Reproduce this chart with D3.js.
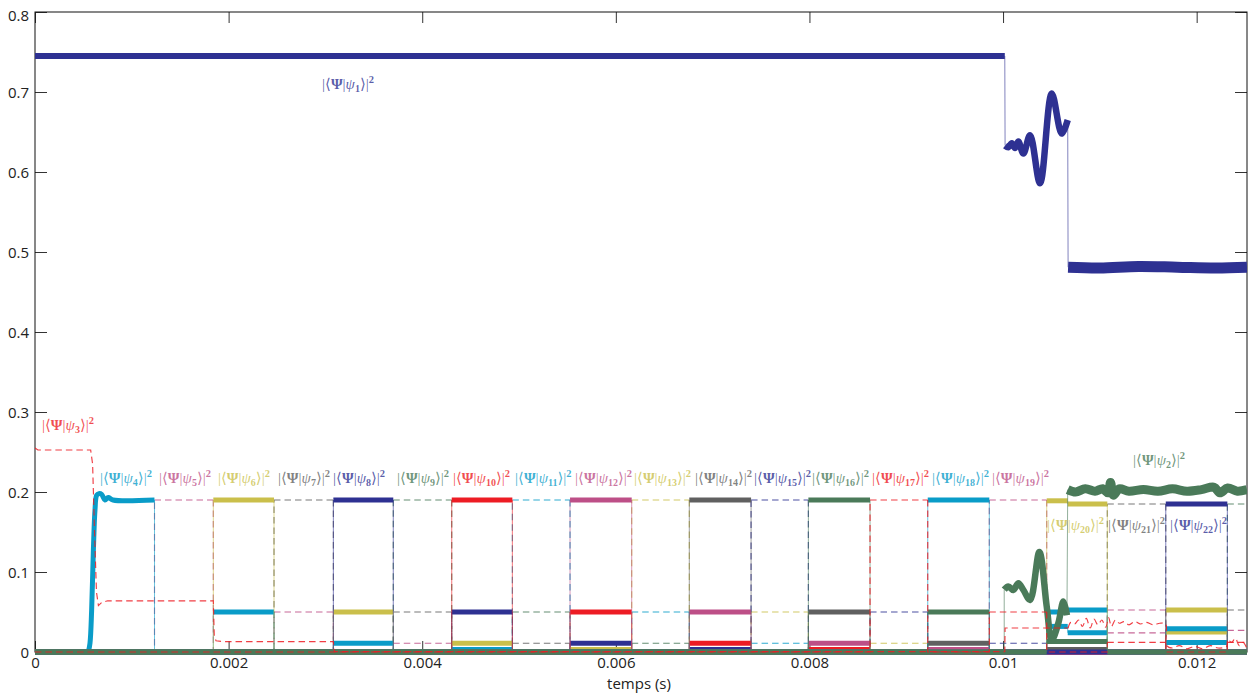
<!DOCTYPE html>
<html><head><meta charset="utf-8">
<script src="https://cdn.jsdelivr.net/npm/d3@7"></script>
<style>body{margin:0;background:#fff}svg{display:block}</style>
</head><body>
<svg id="chart" width="1257" height="693"></svg>
<script>
// ================= DATA (time in ms, shown in s) =================
const xTicks = [0, 2, 4, 6, 8, 10, 12];
const xTickLabels = ["0", "0.002", "0.004", "0.006", "0.008", "0.01", "0.012"];
const yTicks = [0, 0.1, 0.2, 0.3, 0.4, 0.5, 0.6, 0.7, 0.8];
const yTickLabels = ["0", "0.1", "0.2", "0.3", "0.4", "0.5", "0.6", "0.7", "0.8"];
const xTitle = "temps (s)";
const tEnd = 12.52;

// pulse windows (ms)
const windowStart = [0.6095, 1.842, 3.082, 4.305, 5.527, 6.759, 7.989, 9.222, 10.451, 11.681];
const windowEnd   = [1.2345, 2.469, 3.701, 4.931, 6.164, 7.397, 8.626, 9.858, 11.077, 12.317];

const seriesColors = ["#2e3192", "#4a7a59", "#ed1c24", "#0a9cc8", "#bd4f87", "#cabf4b", "#606060"];

const W = (j, v) => [windowStart[j], windowEnd[j], v];
const G = (j, v) => [windowEnd[j], j + 1 < windowStart.length ? windowStart[j + 1] : tEnd, v];

// |<Psi|psi1>|^2
const psi1Flat = [[0, 0.745], [10.018, 0.745]];
const psi1Osc = [[10.021, 0.633], [10.055, 0.631], [10.090, 0.636], [10.124, 0.630], [10.158, 0.638],
  [10.210, 0.623], [10.279, 0.646], [10.382, 0.586], [10.503, 0.698], [10.606, 0.648], [10.668, 0.665]];
const psi1Tail = [[10.672, 0.481], [11.0, 0.480], [11.4, 0.482], [11.8, 0.481], [12.2, 0.480], [12.52, 0.481]];
// |<Psi|psi2>|^2
const psi2Flat = [[0, 0], [10.012, 0]];
const psi2Osc = [[10.012, 0.078], [10.055, 0.082], [10.106, 0.0775], [10.158, 0.086], [10.210, 0.0775],
  [10.279, 0.065], [10.375, 0.125], [10.451, 0.057], [10.503, 0.015], [10.571, 0.036], [10.623, 0.063], [10.660, 0.046]];
const psi2Tail = [[10.668, 0.203], [10.75, 0.200], [10.85, 0.204], [10.95, 0.201], [11.03, 0.204], [11.085, 0.199],
  [11.11, 0.212], [11.14, 0.196], [11.20, 0.204], [11.30, 0.201], [11.45, 0.203], [11.60, 0.201], [11.75, 0.204],
  [11.90, 0.201], [12.05, 0.203], [12.18, 0.206], [12.24, 0.199], [12.32, 0.205], [12.42, 0.201], [12.52, 0.203]];
// |<Psi|psi3>|^2
const psi3Main = [[0, 0.255], [0.03, 0.2525], [0.575, 0.2525], [0.595, 0.235], [0.615, 0.15], [0.635, 0.075],
  [0.655, 0.058], [0.69, 0.062], [0.75, 0.064], [1.842, 0.064], [1.852, 0.02], [1.87, 0.014], [1.95, 0.013],
  [3.082, 0.013], [3.092, 0.0005], [10.018, 0.0005], [10.021, 0.030], [10.672, 0.030]];
const psi3Wave = [[10.672, 0.030], [10.70, 0.037], [10.74, 0.035], [10.78, 0.040], [10.82, 0.032], [10.86, 0.042],
  [10.90, 0.030], [10.94, 0.041], [10.98, 0.034], [11.02, 0.040], [11.06, 0.031], [11.09, 0.043], [11.12, 0.032],
  [11.16, 0.040], [11.20, 0.036], [11.25, 0.038], [11.30, 0.034], [11.36, 0.038], [11.42, 0.035], [11.48, 0.037],
  [11.55, 0.034], [11.62, 0.036], [11.68, 0.035], [11.69, 0.008], [11.75, 0.005], [11.82, 0.008], [11.90, 0.004],
  [11.98, 0.007], [12.06, 0.004], [12.14, 0.008], [12.22, 0.005], [12.31, 0.007], [12.32, 0.016], [12.36, 0.012],
  [12.40, 0.017], [12.44, 0.008], [12.48, 0.012], [12.52, 0.004]];
const psi4Rise = [[0.551, 0], [0.568, 0.011], [0.585, 0.052], [0.603, 0.127], [0.620, 0.178], [0.637, 0.196],
  [0.660, 0.198], [0.689, 0.197], [0.723, 0.190], [0.757, 0.193], [0.806, 0.190], [1.2345, 0.190]];

const psi1 = [{pts: psi1Flat, w: 6}, {pts: psi1Osc, w: 6.5, smooth: true}, {pts: psi1Tail, w: 11, smooth: true}];
const psi2 = [{pts: psi2Flat, w: 5}, {pts: psi2Osc, w: 6.5, smooth: true}, {pts: psi2Tail, w: 9, smooth: true}];
const psi3 = [{pts: psi3Main}, {pts: psi3Wave, smooth: true}];
const psi4 = [{pts: psi4Rise, w: 5, smooth: true}, W(1, 0.05), W(2, 0.011), W(3, 0.003),
  [10.451, 10.668, 0.032], [10.668, 11.077, 0.024], W(9, 0.012)];
const psi5 = [G(0, 0.19), G(1, 0.05), G(2, 0.011), G(3, 0.003), G(8, 0.024)];
const psi6 = [W(1, 0.19), W(2, 0.05), W(3, 0.011), W(4, 0.003), W(9, 0.025)];
const psi7 = [G(1, 0.19), G(2, 0.05), G(3, 0.011), G(4, 0.003)];
const psi8 = [W(2, 0.19), W(3, 0.05), W(4, 0.011), W(5, 0.003)];
const psi9 = [G(2, 0.19), G(3, 0.05), G(4, 0.011), G(5, 0.003)];
const psi10 = [W(3, 0.19), W(4, 0.05), W(5, 0.011), W(6, 0.003)];
const psi11 = [G(3, 0.19), G(4, 0.05), G(5, 0.011), G(6, 0.003)];
const psi12 = [W(4, 0.19), W(5, 0.05), W(6, 0.011), W(7, 0.003)];
const psi13 = [G(4, 0.19), G(5, 0.05), G(6, 0.011), G(7, 0.003)];
const psi14 = [W(5, 0.19), W(6, 0.05), W(7, 0.011), W(8, 0.003)];
const psi15 = [G(5, 0.19), G(6, 0.05), G(7, 0.011), G(8, 0.003)];
const psi16 = [W(6, 0.19), W(7, 0.05), W(8, 0.013)];
const psi17 = [G(6, 0.19), G(7, 0.05), G(8, 0.012), G(9, 0.012)];
const psi18 = [W(7, 0.19), [10.451, 10.668, 0.050], [10.668, 11.077, 0.0525], W(9, 0.029)];
const psi19 = [G(7, 0.19), G(8, 0.0525), G(9, 0.027)];
const psi20 = [[10.451, 10.668, 0.189], [10.668, 11.077, 0.185], W(9, 0.0525)];
const psi21 = [G(8, 0.185), G(9, 0.0525)];
const psi22 = [W(9, 0.185)];
const psi23 = [G(9, 0.185)];

// labels: series index, time (ms), value at baseline
const labelSeries = [1, 2, 3, 4, 5, 6, 7, 8, 9, 10, 11, 12, 13, 14, 15, 16, 17, 18, 19, 20, 21, 22];
const labelT = [2.965, 11.343, 0.072, 0.671, 1.281, 1.890, 2.510, 3.079, 3.740, 4.318, 4.959, 5.579,
  6.188, 6.818, 7.428, 8.027, 8.647, 9.267, 9.886, 10.455, 11.085, 11.725];
const labelV = [0.704, 0.234, 0.2775, 0.211, 0.211, 0.211, 0.211, 0.211, 0.211, 0.211, 0.211, 0.211,
  0.211, 0.211, 0.211, 0.211, 0.211, 0.211, 0.211, 0.1525, 0.1525, 0.1525];

// ================= DRAWING =================
const allSeries = {1: psi1, 2: psi2, 3: psi3, 4: psi4, 5: psi5, 6: psi6, 7: psi7, 8: psi8, 9: psi9, 10: psi10,
  11: psi11, 12: psi12, 13: psi13, 14: psi14, 15: psi15, 16: psi16, 17: psi17, 18: psi18, 19: psi19,
  20: psi20, 21: psi21, 22: psi22, 23: psi23};
const dashedFirst = [5, 7, 9, 11, 13, 15, 19, 21, 23];
const solidOrder = [1, 4, 6, 8, 10, 12, 14, 18, 20, 22, 16, 2];
const dashedLast = [17, 3];

const svg = d3.select("#chart");
const L = 35, R = 1247, T = 12, B = 652;
const x = d3.scaleLinear().domain([0, tEnd]).range([L, R]);
const y = d3.scaleLinear().domain([0, 0.8]).range([B, T]);
const colorOf = k => seriesColors[(k - 1) % 7];

// axes box + ticks
const ax = svg.append("g");
const tickFont = "'Open Sans', 'DejaVu Sans', sans-serif";
ax.append("g").attr("transform", `translate(0,${B})`)
  .call(d3.axisBottom(x).tickValues(xTicks).tickFormat((d, i) => xTickLabels[i]).tickSizeInner(-11).tickSizeOuter(0).tickPadding(5))
  .call(g => g.select(".domain").remove())
  .call(g => g.selectAll("text").style("font-family", tickFont).style("font-size", "15px").attr("fill", "#222"));
ax.append("g").attr("transform", `translate(0,${T})`)
  .call(d3.axisTop(x).tickValues(xTicks).tickFormat("").tickSizeInner(-11).tickSizeOuter(0))
  .call(g => g.select(".domain").remove());
ax.append("g").attr("transform", `translate(${L},0)`)
  .call(d3.axisLeft(y).tickValues(yTicks).tickFormat((d, i) => yTickLabels[i]).tickSizeInner(-12).tickSizeOuter(0).tickPadding(6))
  .call(g => g.select(".domain").remove())
  .call(g => g.selectAll("text").style("font-family", tickFont).style("font-size", "15px").attr("fill", "#222")
    .attr("dy", "0.35em").attr("y", d => d === 0.8 ? 3 : 0));
ax.append("g").attr("transform", `translate(${R},0)`)
  .call(d3.axisRight(y).tickValues(yTicks).tickFormat("").tickSizeInner(-12).tickSizeOuter(0))
  .call(g => g.select(".domain").remove());
ax.selectAll(".tick line").attr("stroke", "#333");
ax.append("rect").attr("x", L).attr("y", T).attr("width", R - L).attr("height", B - T)
  .attr("fill", "none").attr("stroke", "#111").attr("stroke-width", 1);
svg.append("text").attr("x", 639).attr("y", 688.5).attr("text-anchor", "middle")
  .style("font-family", tickFont).style("font-size", "15px").attr("fill", "#222").text(xTitle);

// clip
svg.append("clipPath").attr("id", "clip").append("rect")
  .attr("x", L).attr("y", T).attr("width", R - L).attr("height", B - T + 6);
const plot = svg.append("g").attr("clip-path", "url(#clip)");

const lineLin = d3.line().x(d => x(d[0])).y(d => y(d[1]));
const lineSmooth = d3.line().x(d => x(d[0])).y(d => y(d[1])).curve(d3.curveCatmullRom.alpha(0.5));

function normalise(raw) {
  return raw.map(s => Array.isArray(s) ? {pts: [[s[0], s[2]], [s[1], s[2]]], w: 5} : Object.assign({w: 5}, s));
}
function structure(raw) {
  const segs = normalise(raw);
  const conns = [], zeros = [];
  const first = segs[0], last = segs[segs.length - 1];
  const f0 = first.pts[0];
  if (f0[0] > 0.001) { conns.push([[0, 0], [f0[0], 0], f0]); zeros.push([0, f0[0]]); }
  for (let i = 0; i < segs.length - 1; i++) {
    const a = segs[i].pts[segs[i].pts.length - 1], b = segs[i + 1].pts[0];
    if (b[0] - a[0] < 0.02) conns.push([a, b]);
    else { conns.push([a, [a[0], 0], [b[0], 0], b]); zeros.push([a[0], b[0]]); }
  }
  const lz = last.pts[last.pts.length - 1];
  if (lz[0] < tEnd - 0.001) { conns.push([lz, [lz[0], 0], [tEnd, 0]]); zeros.push([lz[0], tEnd]); }
  return {segs, conns, zeros};
}

function drawDashed(k) {
  const {segs, conns} = structure(allSeries[k]);
  const g = plot.append("g").attr("fill", "none").attr("stroke", colorOf(k))
    .attr("stroke-width", 1.15).attr("stroke-dasharray", "6.5,4").attr("stroke-opacity", 0.85);
  conns.forEach(c => g.append("path").attr("d", lineLin(c)));
  segs.forEach(s => g.append("path").attr("d", (s.smooth ? lineSmooth : lineLin)(s.pts)));
}
function drawSolid(k) {
  const {segs, conns, zeros} = structure(allSeries[k]);
  const c = colorOf(k);
  const g = plot.append("g").attr("fill", "none").attr("stroke", c);
  conns.forEach(p => g.append("path").attr("d", lineLin(p)).attr("stroke-width", 1).attr("stroke-opacity", 0.6));
  zeros.forEach(z => g.append("path").attr("d", lineLin([[z[0], 0], [z[1], 0]])).attr("stroke-width", 5));
  segs.forEach(s => g.append("path").attr("d", (s.smooth ? lineSmooth : lineLin)(s.pts))
    .attr("stroke-width", s.w).attr("stroke-linejoin", "round"));
}

dashedFirst.forEach(drawDashed);
solidOrder.forEach(drawSolid);
dashedLast.forEach(drawDashed);

// labels
const lab = svg.append("g").style("font-family", "'Liberation Serif', 'DejaVu Serif', 'DejaVu Sans', serif")
  .style("font-size", "15px");
labelSeries.forEach((k, i) => {
  const t = lab.append("text").attr("x", x(labelT[i])).attr("y", y(labelV[i]))
    .attr("fill", colorOf(k)).attr("fill-opacity", 0.78);
  t.append("tspan").text("|⟨");
  t.append("tspan").attr("font-weight", "bold").text("Ψ");
  t.append("tspan").text("|");
  t.append("tspan").attr("font-style", "italic").text("ψ");
  t.append("tspan").attr("font-weight", "bold").attr("font-size", "10px").attr("dy", 3).text(k);
  t.append("tspan").attr("dy", -3).text("⟩|");
  t.append("tspan").attr("font-weight", "bold").attr("font-size", "10.5px").attr("dy", -6).text("2");
});
</script>
</body></html>
